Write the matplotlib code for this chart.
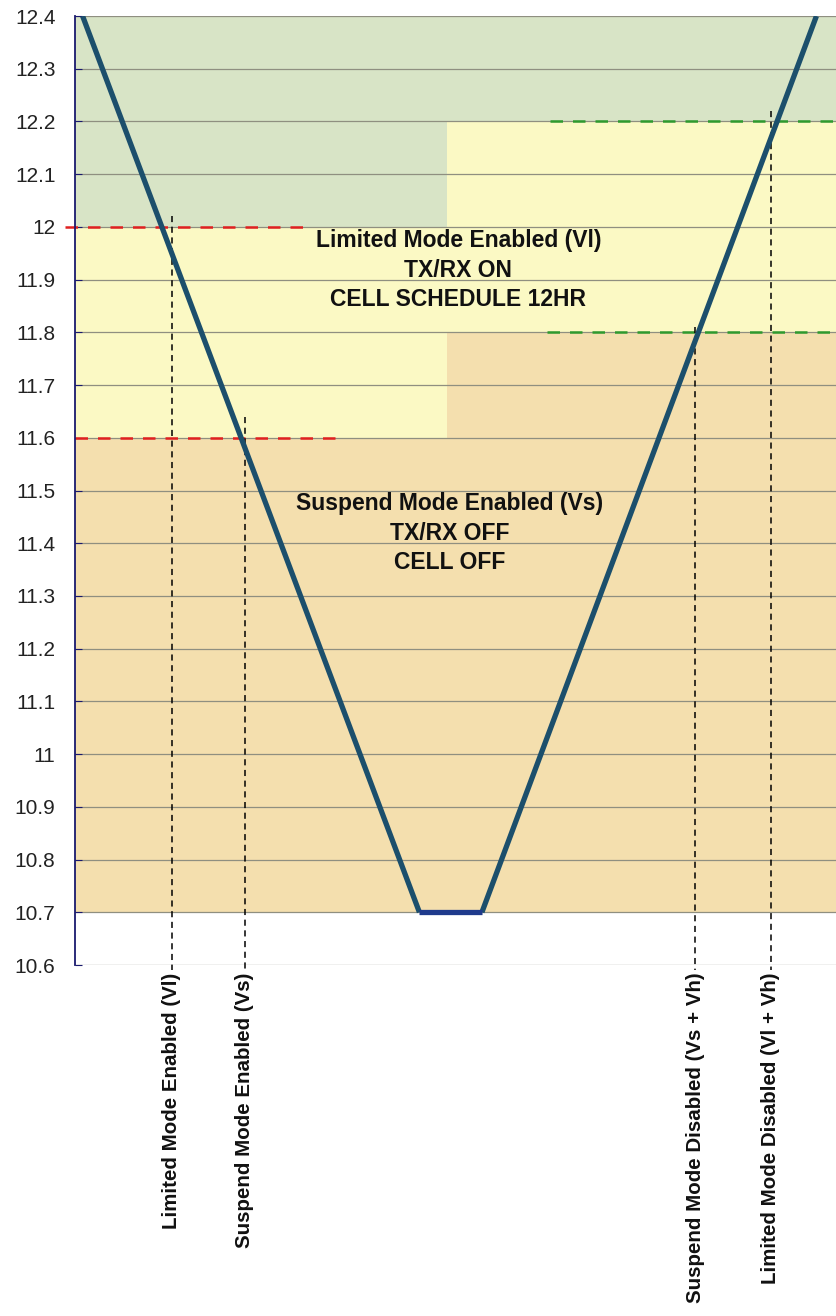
import numpy as np
import matplotlib.pyplot as plt

plt.rcParams['font.family'] = ['Liberation Sans', 'DejaVu Sans']

# battery voltage profile (x in arbitrary time units, 0..100)
t_profile = [1.0, 45.2, 53.4, 97.3]
v_profile = [12.4, 10.7, 10.7, 12.4]

# thresholds
v_limited = 12.0
v_suspend = 11.6
v_hyst = 0.2
v_floor = 10.7
v_top = 12.4
x_split = 48.8

# dashed threshold markers (x start, x end)
red_spans = [(-1.3, 30.2), (0.0, 35.4)]
green_spans = [(62.3, 100.0), (61.9, 100.0)]

# vertical event markers
event_x = [12.7, 22.3, 81.4, 91.3]
event_v = [12.02, 11.64, 11.81, 12.22]
event_labels = ['Limited Mode Enabled (Vl)', 'Suspend Mode Enabled (Vs)',
                'Suspend Mode Disabled (Vs + Vh)', 'Limited Mode Disabled (Vl + Vh)']

yticks = np.arange(10.6, 12.41, 0.1)

c_green = '#d8e4c6'
c_yellow = '#fbf9c4'
c_tan = '#f4dfae'

fig = plt.figure(figsize=(8.37, 13.16), dpi=100)
ax = fig.add_axes([0.0896, 0.2667, 0.9104, 0.7211])
ax.set_xlim(0, 100)
ax.set_ylim(10.6, 12.4)

# zone backgrounds
ax.fill_between([0, x_split], v_limited, v_top, color=c_green, lw=0, zorder=0)
ax.fill_between([0, x_split], v_suspend, v_limited, color=c_yellow, lw=0, zorder=0)
ax.fill_between([0, x_split], v_floor, v_suspend, color=c_tan, lw=0, zorder=0)
ax.fill_between([x_split, 100], v_limited + v_hyst, v_top, color=c_green, lw=0, zorder=0)
ax.fill_between([x_split, 100], v_suspend + v_hyst, v_limited + v_hyst, color=c_yellow, lw=0, zorder=0)
ax.fill_between([x_split, 100], v_floor, v_suspend + v_hyst, color=c_tan, lw=0, zorder=0)

for y in yticks:
    ax.axhline(y, color='#8f8f80', lw=0.9, zorder=1)

# threshold dashes
for (x0, x1), y in zip(red_spans, [v_limited, v_suspend]):
    ax.plot([x0, x1], [y, y], color='#e02020', lw=1.8, ls=(0, (5, 4)), zorder=2, clip_on=False)
for (x0, x1), y in zip(green_spans, [v_limited + v_hyst, v_suspend + v_hyst]):
    ax.plot([x0, x1], [y, y], color='#2e9a2e', lw=1.8, ls=(0, (5, 4)), zorder=2, clip_on=False)

# event markers and labels
for x, v, lab in zip(event_x, event_v, event_labels):
    ax.plot([x, x], [v, 10.59], color='black', lw=1.1, ls=(0, (4, 3)), zorder=3, clip_on=False)
    ax.text(x, 10.586, lab, rotation=90, ha='center', va='top', fontsize=14.8,
            fontweight='bold', color='#111111')

# voltage profile
ax.plot(t_profile[:2], v_profile[:2], color='#1c4f6c', lw=3.8, zorder=4, solid_capstyle='butt')
ax.plot(t_profile[2:], v_profile[2:], color='#1c4f6c', lw=3.8, zorder=4, solid_capstyle='butt')
ax.plot(t_profile[1:3], v_profile[1:3], color='#1f3a8c', lw=3.8, zorder=4, solid_capstyle='butt')

# zone captions
ax.text(50.3, 11.918, 'Limited Mode Enabled (Vl)\nTX/RX ON\nCELL SCHEDULE 12HR',
        ha='center', va='center', fontsize=16.5, fontweight='bold', color='#111111',
        linespacing=1.35, zorder=5)
ax.text(49.2, 11.419, 'Suspend Mode Enabled (Vs)\nTX/RX OFF\nCELL OFF',
        ha='center', va='center', fontsize=16.5, fontweight='bold', color='#111111',
        linespacing=1.35, zorder=5)

ax.set_yticks(yticks)
ax.set_yticklabels([('%.1f' % y).rstrip('0').rstrip('.') for y in yticks])
ax.set_xticks([])
ax.tick_params(axis='y', direction='in', length=5, color='#1a1a6e', labelsize=15,
               labelcolor='#222222', pad=14)
for s in ['top', 'right', 'bottom']:
    ax.spines[s].set_visible(False)
ax.spines['left'].set_color('#1a1a6e')
ax.spines['left'].set_linewidth(1.3)

fig.savefig('out.png', dpi=100, facecolor='white')
